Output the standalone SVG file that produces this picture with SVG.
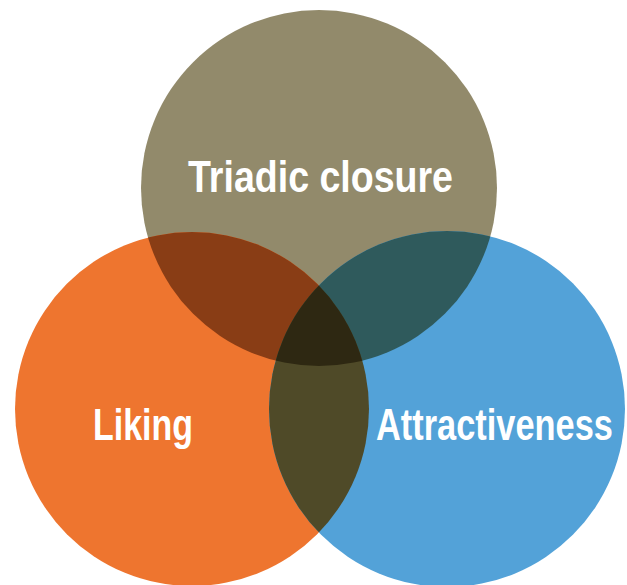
<svg xmlns="http://www.w3.org/2000/svg" width="627" height="585" viewBox="0 0 627 585">
<style>
.lbl{font-family:"Liberation Sans Narrow","Liberation Sans",Arial,sans-serif;font-weight:bold;font-size:44px;fill:#ffffff;text-anchor:middle}
</style>
<defs>
<circle id="cT" cx="319" cy="188" r="178"/>
<circle id="cL" cx="192" cy="409" r="177"/>
<circle id="cR" cx="447" cy="409" r="178"/>
<clipPath id="clipT"><use href="#cT"/></clipPath>
<clipPath id="clipL"><use href="#cL"/></clipPath>
<clipPath id="clipR"><use href="#cR"/></clipPath>
</defs>
<rect width="627" height="585" fill="#ffffff"/>
<g id="node-triadic"><use href="#cT" fill="#928A6B"/></g>
<g id="node-liking"><use href="#cL" fill="#EE752F"/></g>
<g id="node-attractiveness"><use href="#cR" fill="#53A2D8"/></g>
<g id="overlaps">
<g clip-path="url(#clipT)"><use href="#cL" fill="#893D15"/></g>
<g clip-path="url(#clipT)"><use href="#cR" fill="#2F5A5C"/></g>
<g clip-path="url(#clipL)"><use href="#cR" fill="#4F4A28"/></g>
<g clip-path="url(#clipT)"><g clip-path="url(#clipL)"><use href="#cR" fill="#2E2812"/></g></g>
</g>
<g id="labels">
<text class="lbl" x="320.5" y="192" textLength="265" lengthAdjust="spacingAndGlyphs">Triadic closure</text>
<text class="lbl" x="143" y="440" textLength="100" lengthAdjust="spacingAndGlyphs">Liking</text>
<text class="lbl" x="494.5" y="440" textLength="237" lengthAdjust="spacingAndGlyphs">Attractiveness</text>
</g>
</svg>
